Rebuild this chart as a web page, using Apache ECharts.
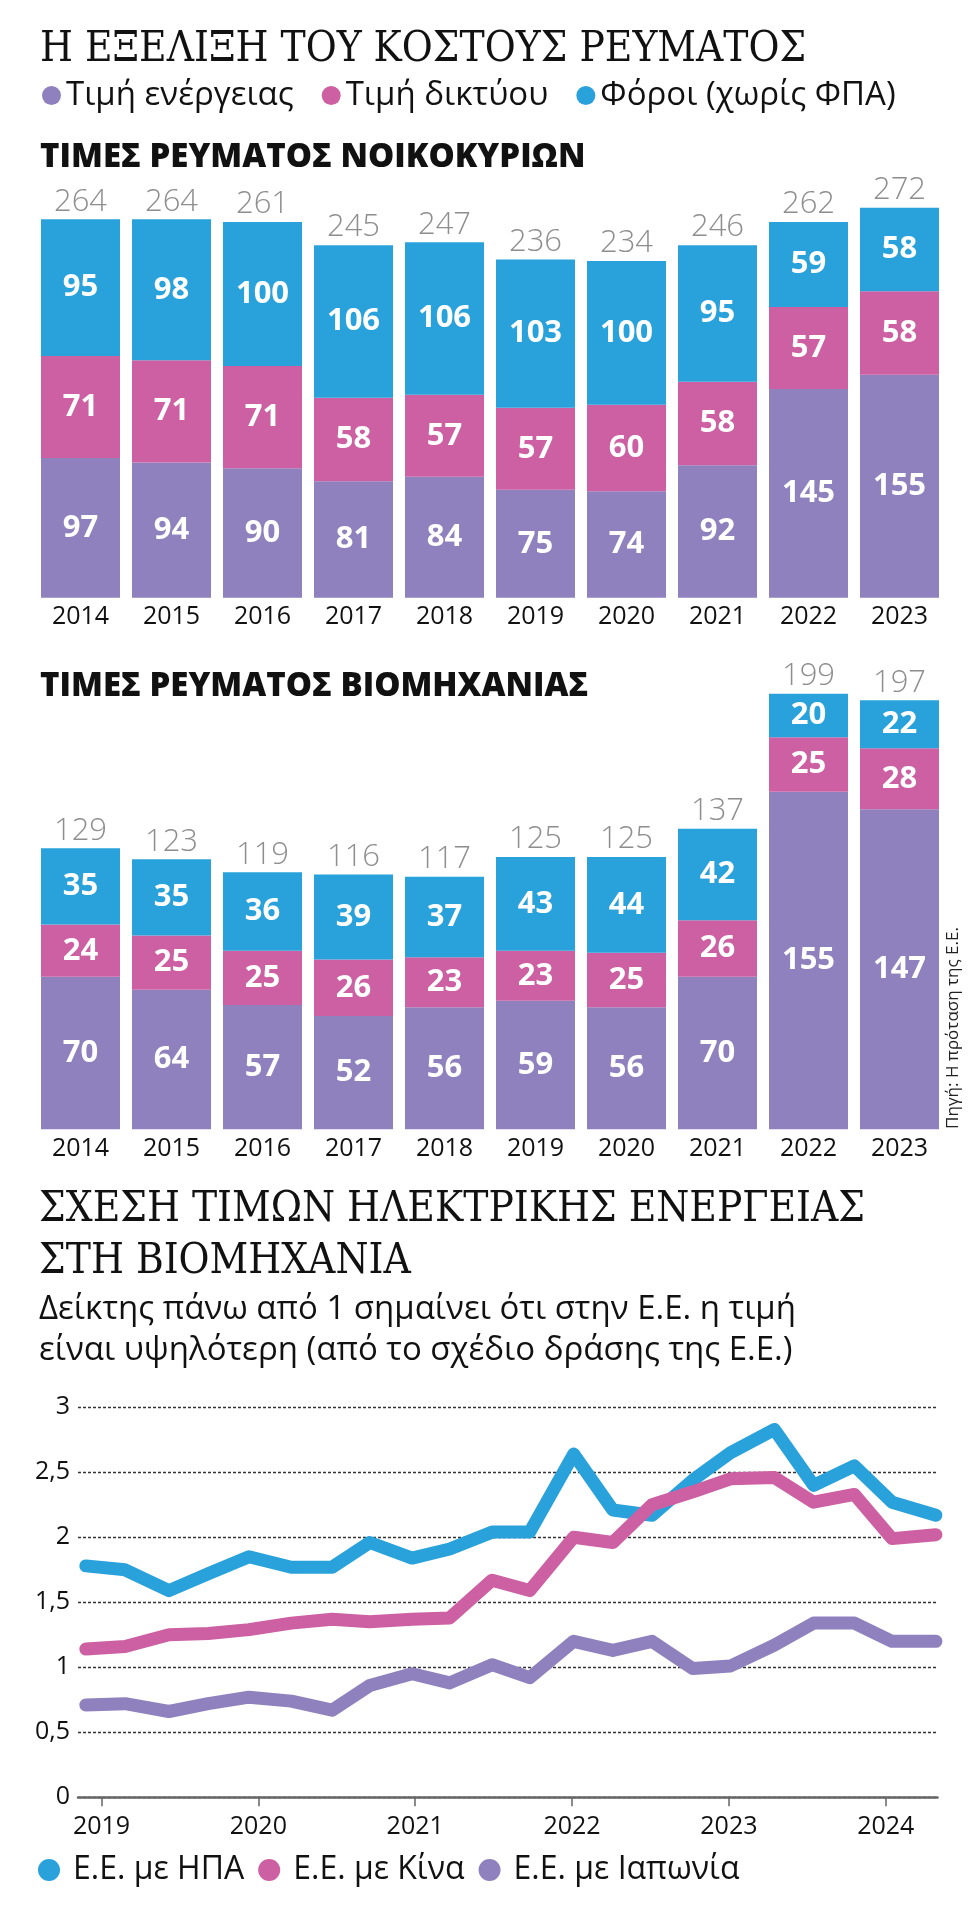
<!DOCTYPE html>
<html lang="el">
<head>
<meta charset="utf-8">
<title>Η εξέλιξη του κόστους ρεύματος</title>
<script src="https://cdn.jsdelivr.net/npm/echarts@6/dist/echarts.min.js"></script>
<style>
  html, body { margin: 0; padding: 0; background: #fff; }
  #chart { width: 980px; height: 1917px; }
</style>
</head>
<body>
<div id="chart"></div>
<script>
// έτη για τα δύο ραβδογράμματα
const years = ['2014', '2015', '2016', '2017', '2018', '2019', '2020', '2021', '2022', '2023'];

// νοικοκυριά
const homeEnergy = [97, 94, 90, 81, 84, 75, 74, 92, 145, 155];
const homeNetwork = [71, 71, 71, 58, 57, 57, 60, 58, 57, 58];
const homeTaxes = [95, 98, 100, 106, 106, 103, 100, 95, 59, 58];
const homeTotals = [264, 264, 261, 245, 247, 236, 234, 246, 262, 272];

// βιομηχανία
const indEnergy = [70, 64, 57, 52, 56, 59, 56, 70, 155, 147];
const indNetwork = [24, 25, 25, 26, 23, 23, 25, 26, 25, 28];
const indTaxes = [35, 35, 36, 39, 37, 43, 44, 42, 20, 22];
const indTotals = [129, 123, 119, 116, 117, 125, 125, 137, 199, 197];

// δείκτες ανά τρίμηνο (θέση στον άξονα σε δεκαδικά έτη)
const quarterPos = [2018.90, 2019.15, 2019.43, 2019.68, 2019.94, 2020.21, 2020.47, 2020.71,
  2020.98, 2021.22, 2021.49, 2021.73, 2022.01, 2022.26, 2022.51, 2022.77,
  2023.01, 2023.29, 2023.54, 2023.80, 2024.04, 2024.32];
const euUsa = [1.78, 1.75, 1.59, 1.72, 1.85, 1.77, 1.77, 1.96, 1.84, 1.91, 2.04,
  2.04, 2.64, 2.21, 2.17, 2.44, 2.65, 2.83, 2.40, 2.55, 2.27, 2.17];
const euChina = [1.14, 1.16, 1.25, 1.26, 1.29, 1.34, 1.37, 1.35, 1.37, 1.38, 1.67,
  1.59, 2.00, 1.96, 2.25, 2.35, 2.45, 2.46, 2.27, 2.33, 1.99, 2.02];
const euJapan = [0.71, 0.72, 0.66, 0.72, 0.77, 0.74, 0.67, 0.86, 0.95, 0.88, 1.02,
  0.92, 1.20, 1.13, 1.20, 0.99, 1.01, 1.17, 1.34, 1.34, 1.20, 1.20];
const yearTicks = [2019, 2020, 2021, 2022, 2023, 2024];

const C_ENERGY = '#8f81bd';
const C_NETWORK = '#cc60a2';
const C_TAXES = '#29a2dc';
const SANS = '"Open Sans", "Noto Sans", sans-serif';
const SERIF = '"DejaVu Serif Condensed", "DejaVu Serif", serif';

function barSeries(idx, energy, network, taxes, totals) {
  const parts = [
    ['Τιμή ενέργειας', energy, C_ENERGY],
    ['Τιμή δικτύου', network, C_NETWORK],
    ['Φόροι (χωρίς ΦΠΑ)', taxes, C_TAXES]
  ];
  const list = parts.map(([name, data, color]) => ({
    name: name,
    type: 'bar',
    stack: 'k' + idx,
    stackStrategy: 'all',
    xAxisIndex: idx,
    yAxisIndex: idx,
    barWidth: 79,
    data: data,
    itemStyle: { color: color },
    label: {
      show: true, position: 'inside', color: '#fff',
      fontFamily: SANS, fontWeight: 'bold', fontSize: 31
    }
  }));
  // μηδενική ράβδος στην κορυφή που κρατά το σύνολο
  list.push({
    type: 'bar',
    stack: 'k' + idx,
    stackStrategy: 'all',
    xAxisIndex: idx,
    yAxisIndex: idx,
    barWidth: 79,
    data: totals.map(() => 0),
    label: {
      show: true, position: 'top', distance: 2, color: '#8e8e8e',
      fontFamily: SANS, fontWeight: 300, fontSize: 31,
      formatter: p => totals[p.dataIndex]
    }
  });
  return list;
}

function lineSeries(name, values, color) {
  return {
    name: name,
    type: 'line',
    xAxisIndex: 2,
    yAxisIndex: 2,
    data: quarterPos.map((x, i) => [x, values[i]]),
    symbol: 'none',
    itemStyle: { color: color },
    lineStyle: { color: color, width: 13, cap: 'round', join: 'round' }
  };
}

function barXAxis(idx) {
  return {
    type: 'category',
    gridIndex: idx,
    data: years,
    axisLine: { show: false },
    axisTick: { show: false },
    axisLabel: { margin: 7, fontSize: 25, color: '#111', fontFamily: SANS }
  };
}

function text(x, y, str, font) {
  return {
    type: 'text', x: x, y: y, silent: true,
    style: { text: str, font: font, fill: '#111', verticalAlign: 'middle' }
  };
}

const chart = echarts.init(document.getElementById('chart'));

chart.setOption({
  animation: false,
  backgroundColor: '#fff',
  textStyle: { fontFamily: SANS },
  legend: [
    {
      data: ['Τιμή ενέργειας', 'Τιμή δικτύου', 'Φόροι (χωρίς ΦΠΑ)'],
      left: 42, top: 79, padding: 0,
      icon: 'circle', itemWidth: 19, itemHeight: 19, itemGap: 28,
      selectedMode: false,
      textStyle: { fontSize: 33, lineHeight: 33, color: '#111', fontFamily: SANS }
    },
    {
      data: ['Ε.Ε. με ΗΠΑ', 'Ε.Ε. με Κίνα', 'Ε.Ε. με Ιαπωνία'],
      left: 38, top: 1854, padding: 0,
      icon: 'circle', itemWidth: 22, itemHeight: 22, itemGap: 14,
      selectedMode: false,
      textStyle: { fontSize: 32, lineHeight: 32, color: '#111', fontFamily: SANS, padding: [0, 0, 0, 8] }
    }
  ],
  grid: [
    { left: 35, right: 35, top: 166, height: 431.7 },
    { left: 35, right: 35, top: 672, height: 457.2 },
    { left: 78, right: 42.5, top: 1407.3, height: 390 }
  ],
  xAxis: [
    barXAxis(0),
    barXAxis(1),
    {
      type: 'value',
      gridIndex: 2,
      min: 2018.85,
      max: 2024.33,
      splitLine: { show: false },
      axisLine: { lineStyle: { color: '#666', width: 2.5 } },
      axisTick: { customValues: yearTicks, length: 9, lineStyle: { color: '#666', width: 1.5 } },
      axisLabel: {
        customValues: yearTicks, margin: 17, fontSize: 25, color: '#111',
        fontFamily: SANS, formatter: v => String(v)
      }
    }
  ],
  yAxis: [
    { type: 'value', gridIndex: 0, min: 0, max: 300, show: false },
    { type: 'value', gridIndex: 1, min: 0, max: 210, show: false },
    {
      type: 'value',
      gridIndex: 2,
      min: 0,
      max: 3,
      interval: 0.5,
      axisLine: { show: false },
      axisTick: { show: false },
      axisLabel: {
        margin: 8, fontSize: 25, color: '#111', fontFamily: SANS,
        formatter: v => String(v).replace('.', ',')
      },
      splitLine: { lineStyle: { type: [3, 2], color: '#333', width: 1.3 } }
    }
  ],
  series: [
    ...barSeries(0, homeEnergy, homeNetwork, homeTaxes, homeTotals),
    ...barSeries(1, indEnergy, indNetwork, indTaxes, indTotals),
    lineSeries('Ε.Ε. με ΗΠΑ', euUsa, C_TAXES),
    lineSeries('Ε.Ε. με Κίνα', euChina, C_NETWORK),
    lineSeries('Ε.Ε. με Ιαπωνία', euJapan, C_ENERGY)
  ],
  graphic: [
    text(40, 50, 'Η ΕΞΕΛΙΞΗ ΤΟΥ ΚΟΣΤΟΥΣ ΡΕΥΜΑΤΟΣ', '42px ' + SERIF),
    text(40, 158, 'ΤΙΜΕΣ ΡΕΥΜΑΤΟΣ ΝΟΙΚΟΚΥΡΙΩΝ', '800 33px ' + SANS),
    text(40, 687, 'ΤΙΜΕΣ ΡΕΥΜΑΤΟΣ ΒΙΟΜΗΧΑΝΙΑΣ', '800 33px ' + SANS),
    text(39, 1210, 'ΣΧΕΣΗ ΤΙΜΩΝ ΗΛΕΚΤΡΙΚΗΣ ΕΝΕΡΓΕΙΑΣ', '42px ' + SERIF),
    text(39, 1262, 'ΣΤΗ ΒΙΟΜΗΧΑΝΙΑ', '42px ' + SERIF),
    text(39, 1310, 'Δείκτης πάνω από 1 σημαίνει ότι στην Ε.Ε. η τιμή', '33px ' + SANS),
    text(39, 1351, 'είναι υψηλότερη (από το σχέδιο δράσης της Ε.Ε.)', '33px ' + SANS),
    {
      type: 'text', x: 953, y: 1028, rotation: Math.PI / 2, silent: true,
      style: {
        text: 'Πηγή: Η πρόταση της Ε.Ε.', font: '17px ' + SANS, fill: '#222',
        align: 'center', verticalAlign: 'middle'
      }
    }
  ]
});
</script>
</body>
</html>
